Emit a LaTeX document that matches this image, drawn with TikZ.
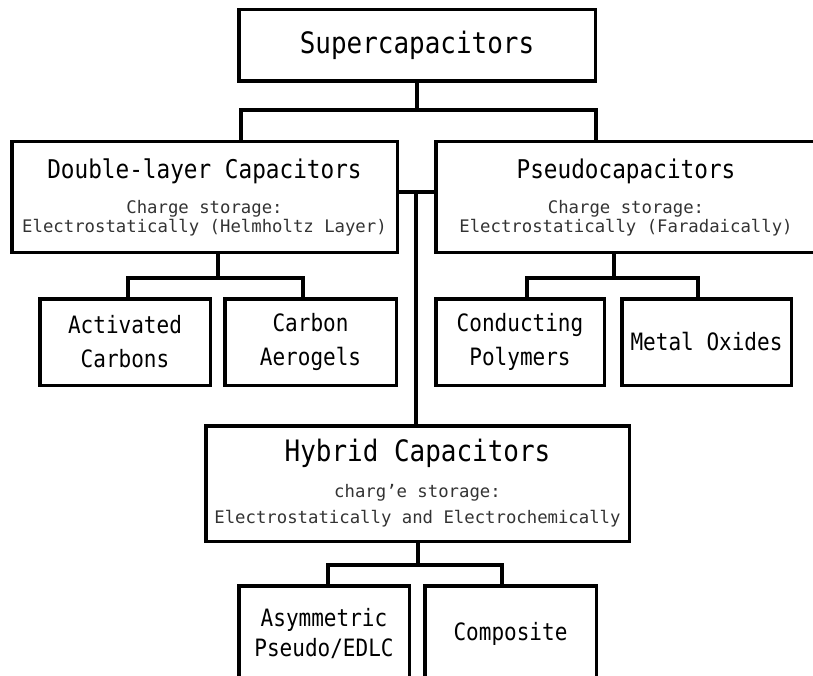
\documentclass[tikz,border=0pt]{standalone}
\usepackage{fontspec}
\newfontfamily\boxfont[FakeStretch=0.88]{DejaVu Sans Mono}
\newfontfamily\subfont{DejaVu Sans Mono}
\newcommand{\boxtitle}[2][25.8]{{\boxfont\color{black}\fontsize{#1}{#1}\selectfont #2}}
\begin{document}
\begin{tikzpicture}[x=1pt, y=-1pt,
        box/.style={rectangle, draw, line width=3.5pt, align=center, inner sep=2pt, text=black},
        topbox/.style={box, font=\boxfont\fontsize{29.5}{32}\selectfont},
        groupbox/.style={box, minimum height=110.5pt, text=black!80, font=\subfont\fontsize{17.3}{19}\selectfont},
        leafbox/.style={box, minimum height=86.5pt, font=\boxfont\fontsize{23.9}{34}\selectfont},
        link/.style={line width=3.5pt}
    ]
        \useasboundingbox (0,0) rectangle (813,676);
        \clip (0,0) rectangle (813,676);

        \node[topbox, minimum width=356.5pt, minimum height=71.5pt] (super) at (417,45.5) {Supercapacitors};
        \node[groupbox, minimum width=385.5pt] (dbl) at (204.5,197) {\boxtitle{Double-layer Capacitors}\\[16pt]Charge storage:\\Electrostatically (Helmholtz Layer)};
        \node[groupbox, minimum width=380.5pt] (pseudo) at (626,197) {\boxtitle{Pseudocapacitors}\\[16pt]Charge storage:\\Electrostatically (Faradaically)};
        \node[leafbox, minimum width=170.5pt] (act) at (125,342) {Activated\\Carbons};
        \node[leafbox, minimum width=171.5pt] (aero) at (310.5,342) {Carbon\\Aerogels};
        \node[leafbox, minimum width=168.5pt] (cond) at (520,342) {Conducting\\Polymers};
        \node[leafbox, minimum width=169.5pt] (metal) at (706.5,342) {Metal Oxides};
        \node[groupbox, minimum width=423.5pt, minimum height=115.5pt, font=\subfont\fontsize{17.3}{26}\selectfont] (hybrid) at (417.5,483.5) {\boxtitle[29.5]{Hybrid Capacitors}\\[10pt]charg’e storage:\\Electrostatically and Electrochemically};
        \node[leafbox, minimum width=170.5pt, minimum height=96.5pt, font=\boxfont\fontsize{23.9}{30}\selectfont] (asym) at (324,634) {Asymmetric\\Pseudo/EDLC};
        \node[leafbox, minimum width=171.5pt, minimum height=96.5pt] (comp) at (510.5,634) {Composite};

        \coordinate (topL) at (241,110);
        \coordinate (topR) at (596,110);
        \coordinate (midT) at (416,192);
        \coordinate (dblJ) at (218,278);
        \coordinate (dblL) at (128,278);
        \coordinate (dblR) at (303,278);
        \coordinate (psdJ) at (614,278);
        \coordinate (psdL) at (527,278);
        \coordinate (psdR) at (698,278);
        \coordinate (hybJ) at (418,565);
        \coordinate (hybL) at (328,565);
        \coordinate (hybR) at (502,565);

        \draw[link] (super) -- (super |- topL);
        \draw[link] (topL |- dbl.north) |- (topR) -- (topR |- pseudo.north);
        \draw[link] (midT -| dbl.east) -- (midT -| pseudo.west);
        \draw[link] (midT) -- (midT |- hybrid.north);
        \draw[link] (dblJ |- dbl.south) -- (dblJ);
        \draw[link] (dblL |- act.north) |- (dblR) -- (dblR |- aero.north);
        \draw[link] (psdJ |- pseudo.south) -- (psdJ);
        \draw[link] (psdL |- cond.north) |- (psdR) -- (psdR |- metal.north);
        \draw[link] (hybJ |- hybrid.south) -- (hybJ);
        \draw[link] (hybL |- asym.north) |- (hybR) -- (hybR |- comp.north);
    \end{tikzpicture}
\end{document}
